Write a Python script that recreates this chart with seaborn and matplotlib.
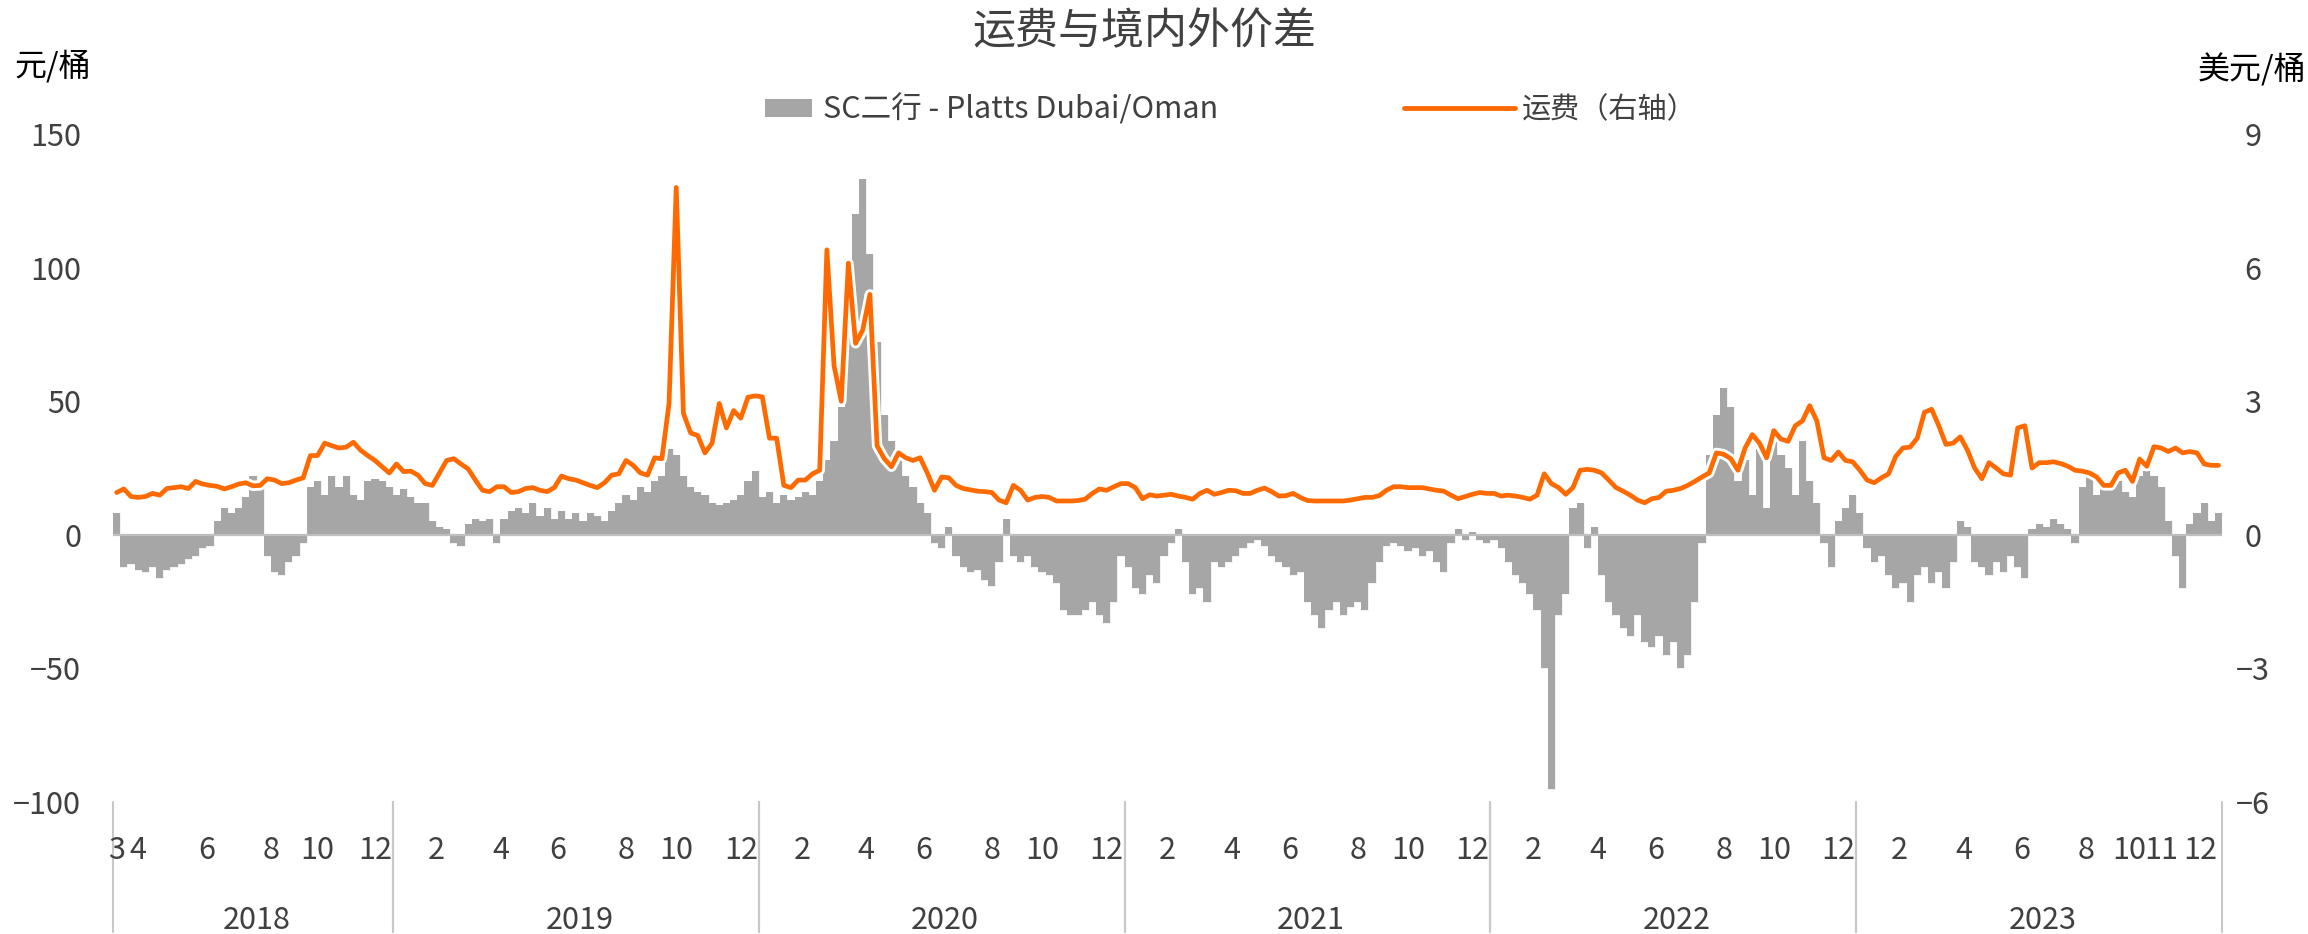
import numpy as np
import pandas as pd
import matplotlib
matplotlib.use("Agg")
import matplotlib.pyplot as plt
import matplotlib.patheffects as pe
import matplotlib.transforms as mtransforms
from matplotlib.patches import Patch
from matplotlib.lines import Line2D
import seaborn as sns

# ---- data (roughly weekly samples) ----
years = [2018, 2019, 2020, 2021, 2022, 2023]
# number of samples falling in each month; 2018 starts in March
pts_2018 = [1, 5, 5, 4, 5, 4, 3, 3, 4, 5]
pts_year = [4, 4, 5, 4, 4, 4, 5, 5, 3, 3, 5, 5]
pts_2023 = [4, 4, 5, 4, 4, 4, 5, 4, 2, 4, 5, 6]
shown_months = {
    2018: [3, 4, 6, 8, 10, 12],
    2019: [2, 4, 6, 8, 10, 12],
    2020: [2, 4, 6, 8, 10, 12],
    2021: [2, 4, 6, 8, 10, 12],
    2022: [2, 4, 6, 8, 10, 12],
    2023: [2, 4, 6, 8, 10, 11, 12],
}

# SC二行 - Platts Dubai/Oman, 元/桶
spread_2018 = [8, -12, -11, -13, -14, -12, -16, -13, -12, -11, -9, -8, -5, -4, 5, 10, 8, 10, 14, 22,
               20, -8, -14, -15, -10, -8, -3, 18, 20, 15, 22, 18, 22, 15, 13, 20, 21, 20, 18]
spread_2019 = [15, 17, 14, 12, 12, 5, 3, 2, -3, -4, 4, 6, 5, 6, -3, 6, 9, 10,
               8, 12, 7, 10, 6, 9, 6, 8, 5, 8, 7, 5, 9, 12, 15, 13, 18, 16, 20, 22,
               32, 30, 22, 18, 16, 15, 12, 11, 12, 13, 15, 20, 24]
spread_2020 = [14, 16, 12, 15, 13, 14, 16, 15, 20, 28, 35, 48, 80, 120, 133, 105, 72, 45, 35, 28,
               22, 18, 12, 8, -3, -5,
               3, -8, -12, -14, -13, -17, -19, -10, 6, -8, -10, -8, -12, -14, -15, -18, -28, -30,
               -30, -28, -25, -30, -33, -25, -8]
spread_2021 = [-12, -20, -22, -15, -18, -8, -3, 2, -10, -22, -20, -25, -10, -12, -10, -8, -5, -3,
               -2, -4, -8, -10, -12, -15, -14, -25, -30, -35, -28, -25, -30, -27, -25, -28,
               -18, -10, -4, -3, -4, -6, -5, -8, -6, -10, -14, -3, 2, -2, 1, -2, -3]
spread_2022 = [-2, -5, -10, -15, -18, -22, -28, -50, -95, -30, -22, 10, 12, -5, 3, -15, -25, -30,
               -35, -38, -30, -40, -42, -38, -45, -40, -50, -45, -25, -3, 30, 45, 55, 48, 20, 28,
               15, 32, 10, 35, 30, 25, 15, 35, 20, 12, -3, -12, 5, 10, 15]
spread_2023 = [8, -5, -10, -8, -15, -20, -18, -25, -15, -12, -18, -14, -20, -10, 5, 3, -10, -12,
               -15, -10, -14, -8, -12, -16, 2, 4, 3, 6, 4, 2, -3, 18, 22, 15, 20, 18, 20, 16, 14,
               22, 24, 22, 18, 5, -8, -20, 4, 8, 12, 5, 8]

# 运费, 美元/桶 (right axis)
freight_2018 = [0.95, 1.03, 0.86, 0.84, 0.86, 0.93, 0.89, 1.04, 1.06, 1.08, 1.04, 1.20, 1.14,
                1.11, 1.09, 1.03, 1.08, 1.14, 1.17, 1.10, 1.11, 1.26, 1.23, 1.15, 1.17, 1.23,
                1.28, 1.78, 1.78, 2.06, 2.00, 1.95, 1.97, 2.08, 1.90, 1.78, 1.67, 1.53, 1.39]
freight_2019 = [1.59, 1.42, 1.43, 1.34, 1.15, 1.11, 1.39, 1.67, 1.71, 1.59, 1.48, 1.23, 1.00,
                0.97, 1.08, 1.08, 0.95,
                0.97, 1.04, 1.06, 1.00, 0.97, 1.06, 1.32, 1.26, 1.23, 1.17, 1.11, 1.06, 1.17,
                1.34, 1.37, 1.67, 1.56, 1.39, 1.34, 1.73, 1.71, 2.95, 7.80, 2.73, 2.29, 2.23,
                1.84, 2.06, 2.95, 2.40, 2.79, 2.62, 3.09, 3.12]
freight_2020 = [3.10, 2.17, 2.17, 1.11, 1.06, 1.23, 1.23, 1.37, 1.45, 6.40, 3.80, 3.00, 6.10,
                4.30, 4.60, 5.40, 2.00, 1.71, 1.53, 1.84, 1.73, 1.67, 1.73, 1.39, 1.00, 1.30,
                1.28, 1.11, 1.04, 1.01, 0.98, 0.97, 0.95, 0.78, 0.72, 1.11, 1.00, 0.78, 0.84,
                0.86, 0.84, 0.76, 0.76, 0.76, 0.77, 0.80, 0.93, 1.03, 1.00, 1.08, 1.15]
freight_2021 = [1.15, 1.06, 0.81, 0.90, 0.87, 0.89, 0.91, 0.87, 0.84, 0.80, 0.93, 1.00, 0.91,
                0.95, 1.00, 0.99, 0.93, 0.93, 1.00, 1.05, 0.97, 0.87, 0.88, 0.93, 0.84, 0.77,
                0.76, 0.76, 0.76, 0.76, 0.76, 0.78, 0.81,
                0.84, 0.84, 0.88, 1.00, 1.08, 1.08, 1.06, 1.06, 1.06, 1.03, 1.00, 0.98, 0.89,
                0.81, 0.86, 0.91, 0.95, 0.93]
freight_2022 = [0.93, 0.87, 0.89, 0.87, 0.84, 0.80, 0.89, 1.37, 1.15, 1.06, 0.91, 1.06, 1.45,
                1.47, 1.45, 1.39, 1.23, 1.06, 0.98, 0.89, 0.78, 0.72, 0.81, 0.84, 0.98, 1.00,
                1.04, 1.11, 1.20, 1.30, 1.39, 1.84, 1.81, 1.71, 1.45, 1.95, 2.25, 2.06, 1.73,
                2.34, 2.15, 2.10, 2.45, 2.56, 2.90, 2.56, 1.73, 1.67, 1.86, 1.67, 1.64]
freight_2023 = [1.45, 1.23, 1.17, 1.28, 1.37, 1.76, 1.95, 1.97, 2.17, 2.75, 2.82, 2.45, 2.03,
                2.06, 2.20, 1.90, 1.50, 1.26, 1.62, 1.50, 1.37, 1.34, 2.40, 2.45, 1.50, 1.62,
                1.62, 1.64, 1.60, 1.54, 1.45, 1.43, 1.39, 1.30, 1.11, 1.11, 1.39, 1.45, 1.20,
                1.70, 1.54, 1.98, 1.95, 1.87, 1.95, 1.84, 1.87, 1.84, 1.59, 1.56, 1.56]

spread = [spread_2018, spread_2019, spread_2020, spread_2021, spread_2022, spread_2023]
freight = [freight_2018, freight_2019, freight_2020, freight_2021, freight_2022, freight_2023]

# long table: one row per sample
rows = []
for yr, sp, fr in zip(years, spread, freight):
    if yr == 2018:
        months, pts = range(3, 13), pts_2018
    elif yr == 2023:
        months, pts = range(1, 13), pts_2023
    else:
        months, pts = range(1, 13), pts_year
    mlist = [m for m, k in zip(months, pts) for _ in range(k)]
    assert len(mlist) == len(sp) == len(fr), (yr, len(mlist), len(sp), len(fr))
    for m, s, f in zip(mlist, sp, fr):
        rows.append((yr, m, s, f))
df = pd.DataFrame(rows, columns=["year", "month", "spread", "freight"])
df["x"] = np.arange(len(df))
n = len(df)

# ---- style ----
sns.set_theme(style="white")
plt.rcParams["font.family"] = ["Noto Sans CJK SC", "DejaVu Sans"]
txt = "#404040"
grey = "#a6a6a6"
orange = "#ff6a00"

fig = plt.figure(figsize=(23.08, 9.34), dpi=100)
ax = fig.add_axes([0.049, 0.1413, 0.9138, 0.7152])

sns.barplot(data=df, x="x", y="spread", native_scale=True, width=1.0, color=grey,
            saturation=1, errorbar=None, linewidth=0, ax=ax)
for p in ax.patches:
    p.set_path_effects([pe.Stroke(linewidth=0.7, foreground="#f4f4f4"), pe.Normal()])

ax.axhline(0, color="#bfbfbf", lw=1.6, zorder=5)
ax.set_xlim(-0.5, n - 0.5)
ax.set_ylim(-100, 150)
ax.set_yticks(range(-100, 151, 50))
ax.set_xticks([])
ax.set_xlabel("")
ax.set_ylabel("")
ax.tick_params(axis="y", length=0, pad=23, labelsize=22, colors=txt)
for s in ax.spines.values():
    s.set_visible(False)

ax2 = ax.twinx()
sns.lineplot(data=df, x="x", y="freight", ax=ax2, color=orange, linewidth=3.4, legend=False)
ax2.lines[0].set_path_effects([pe.Stroke(linewidth=7.5, foreground="white"), pe.Normal()])
ax2.set_xlim(-0.5, n - 0.5)
ax2.set_ylim(-6, 9)
ax2.set_yticks(range(-6, 10, 3))
ax2.set_ylabel("")
ax2.tick_params(axis="y", length=0, pad=22, labelsize=22, colors=txt)
plt.setp(ax2.get_yticklabels(), ha="center")
for s in ax2.spines.values():
    s.set_visible(False)

# ---- two-level category axis ----
trans = mtransforms.blended_transform_factory(ax.transData, ax.transAxes)
for (yr, m), g in df.groupby(["year", "month"]):
    if m in shown_months[yr]:
        ax.text(g["x"].mean(), -0.073, str(m), transform=trans, ha="center", va="center",
                fontsize=22, color=txt)
for yr, g in df.groupby("year"):
    ax.text(g["x"].mean() + 0.5, -0.178, str(yr), transform=trans, ha="center", va="center",
            fontsize=22, color=txt)
    for b in (g["x"].min() - 0.5, g["x"].max() + 0.5):
        ax.plot([b, b], [0, -0.195], transform=trans, color="#c8c8c8", lw=1.5, clip_on=False)

# ---- titles, units, legend ----
fig.text(0.4957, 1 - 32 / 934, "运费与境内外价差", fontsize=31, ha="center", va="center", color=txt)
fig.text(14 / 2308, 1 - 66 / 934, "元/桶", fontsize=23, ha="left", va="center", color="black")
fig.text(2306 / 2308, 1 - 70 / 934, "美元/桶", fontsize=23, ha="right", va="center", color="black")

fig.legend(handles=[Patch(facecolor=grey, edgecolor="none")], labels=["SC二行 - Platts Dubai/Oman"],
           loc="center left", bbox_to_anchor=(765 / 2308, 1 - 110 / 934), frameon=False,
           fontsize=22, handlelength=1.55, handleheight=0.55, handletextpad=0.35,
           borderpad=0, borderaxespad=0, labelcolor=txt)
fig.legend(handles=[Line2D([0], [0], color=orange, lw=3.5)], labels=["运费（右轴）"],
           loc="center left", bbox_to_anchor=(1404 / 2308, 1 - 110 / 934), frameon=False,
           fontsize=21, handlelength=3.8, handletextpad=0.25,
           borderpad=0, borderaxespad=0, labelcolor=txt)

fig.savefig("out.png", dpi=100)
